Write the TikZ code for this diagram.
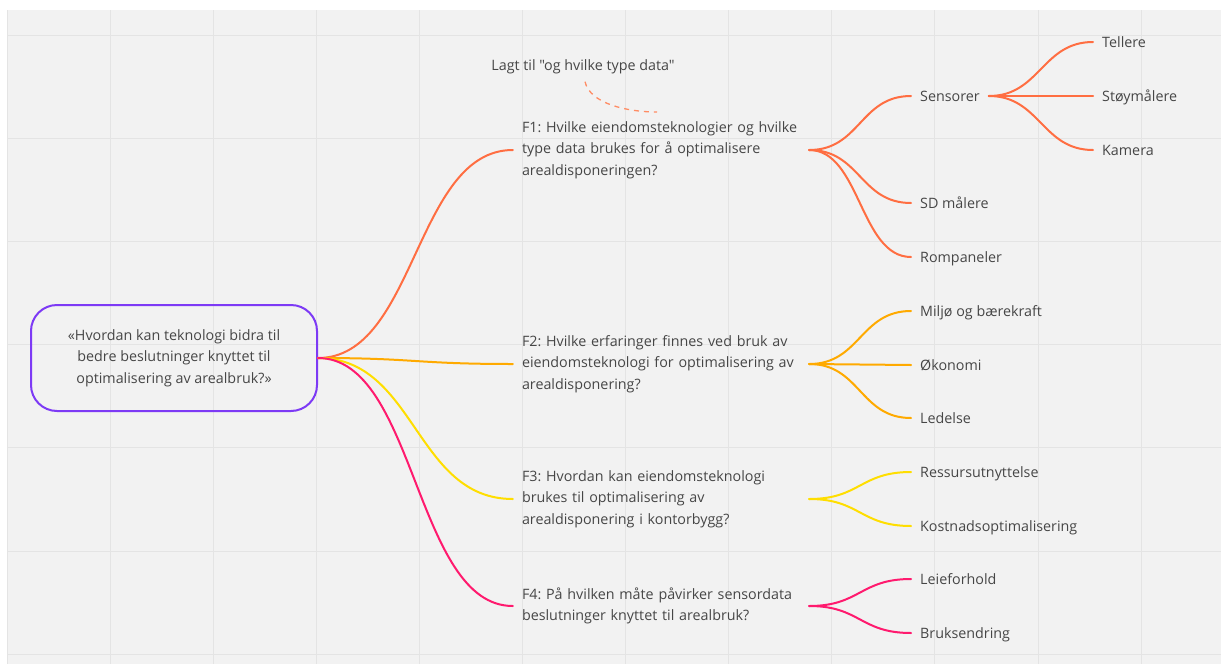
\documentclass[tikz,border=0pt]{standalone}
\usepackage{fontspec}
\setmainfont{Open Sans}[Ligatures=TeXOff]
\frenchspacing
\definecolor{bg}{RGB}{242,242,242}
\definecolor{gridc}{RGB}{228,228,228}
\definecolor{txt}{RGB}{70,70,70}
\definecolor{cone}{RGB}{255,110,66}
\definecolor{ctwo}{RGB}{255,170,0}
\definecolor{cthree}{RGB}{255,222,0}
\definecolor{cfour}{RGB}{255,26,110}
\definecolor{purp}{RGB}{125,58,245}
\definecolor{notec}{RGB}{255,140,100}
\tikzset{
  every node/.style={font=\fontsize{14.3}{21.5}\selectfont, text=txt},
  rootbox/.style={draw=purp, line width=2pt, rounded corners=26pt, minimum width=286pt, minimum height=106pt, align=center, inner sep=0pt},
  qbox/.style={text width=278pt, align=left, inner xsep=9pt, inner ysep=2pt},
  leaf/.style={anchor=west, inner xsep=9pt, inner ysep=2pt, text height=10.3pt, text depth=0pt},
  link/.style={line width=2pt, line cap=round},
  gridline/.style={gridc, line width=1pt},
}
\begin{document}
\begin{tikzpicture}[x=1pt,y=-1pt]
\useasboundingbox (0,0) rectangle (1221,664);
\fill[white] (0,0) rectangle (1221,664);
\fill[bg] (7,10) rectangle (1221,664);
\foreach \i in {0,...,11} \draw[gridline] ({7+103.1*\i},10) -- ({7+103.1*\i},664);
\foreach \i in {0,...,6} \draw[gridline] (7,{35+103.2*\i}) -- (1221,{35+103.2*\i});

% root
\node[rootbox] (root) at (174,358) {«Hvordan kan teknologi bidra til\\bedre beslutninger knyttet til\\optimalisering av arealbruk?»};

% questions
\node[qbox] (f1) at (661,150) {F1: Hvilke eiendomsteknologier og hvilke\\type data brukes for å optimalisere\\arealdisponeringen?};
\node[qbox] (f2) at (661,364) {F2: Hvilke erfaringer finnes ved bruk av\\eiendomsteknologi for optimalisering av\\arealdisponering?};
\node[qbox] (f3) at (661,499) {F3: Hvordan kan eiendomsteknologi\\brukes til optimalisering av\\arealdisponering i kontorbygg?};
\node[qbox] (f4) at (661,606) {F4: På hvilken måte påvirker sensordata\\beslutninger knyttet til arealbruk?};

% note
\node (note) at (583,67) {Lagt til "og hvilke type data"};
\coordinate (noteend) at (657,112);
\draw[notec, line width=1.3pt, dash pattern=on 5pt off 5pt] ([xshift=2pt,yshift=-4pt]note.south) .. controls +(5,22) and +(-30,0) .. (noteend);

% F1 children
\node[leaf] (sens) at (911,96) {Sensorer};
\node[leaf] (sd) at (911,203) {SD målere};
\node[leaf] (rom) at (911,257) {Rompaneler};
\node[leaf] (tel) at (1093,42) {Tellere};
\node[leaf] (stoy) at (1093,96) {Støymålere};
\node[leaf] (kam) at (1093,150) {Kamera};
% F2 children
\node[leaf] (milj) at (911,311) {Miljø og bærekraft};
\node[leaf] (oko) at (911,365) {Økonomi};
\node[leaf] (led) at (911,418) {Ledelse};
% F3 children
\node[leaf] (ress) at (911,472) {Ressursutnyttelse};
\node[leaf] (kost) at (911,526) {Kostnadsoptimalisering};
% F4 children
\node[leaf] (leie) at (911,579) {Leieforhold};
\node[leaf] (bruk) at (911,633) {Bruksendring};

% root links
\draw[link, cone] (root.east) .. controls +(98,0) and +(-98,0) .. (f1.west);
\draw[link, ctwo] (root.east) .. controls +(98,0) and +(-98,0) .. (f2.west);
\draw[link, cthree] (root.east) .. controls +(98,0) and +(-98,0) .. (f3.west);
\draw[link, cfour] (root.east) .. controls +(98,0) and +(-98,0) .. (f4.west);

% child links
\foreach \t in {sens,sd,rom} \draw[link, cone] (f1.east) .. controls +(51,0) and +(-51,0) .. (\t.west);
\foreach \t in {tel,stoy,kam} \draw[link, cone] (sens.east) .. controls +(51,0) and +(-51,0) .. (\t.west);
\foreach \t in {milj,oko,led} \draw[link, ctwo] (f2.east) .. controls +(51,0) and +(-51,0) .. (\t.west);
\foreach \t in {ress,kost} \draw[link, cthree] (f3.east) .. controls +(51,0) and +(-51,0) .. (\t.west);
\foreach \t in {leie,bruk} \draw[link, cfour] (f4.east) .. controls +(51,0) and +(-51,0) .. (\t.west);
\end{tikzpicture}
\end{document}
